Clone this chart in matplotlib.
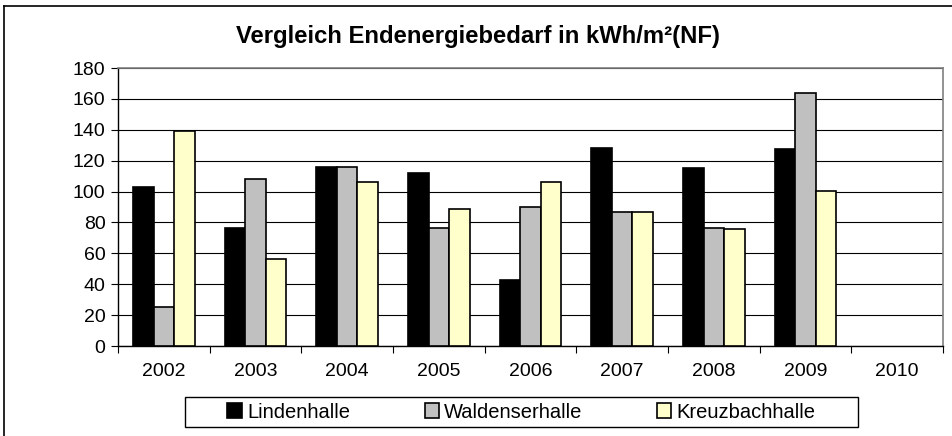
import numpy as np
import matplotlib
matplotlib.use('Agg')
import matplotlib.pyplot as plt
from matplotlib.lines import Line2D
from matplotlib.patches import Rectangle

plt.rcParams['font.family'] = ['Liberation Sans', 'DejaVu Sans']

years = ['2002', '2003', '2004', '2005', '2006', '2007', '2008', '2009', '2010']
lindenhalle = [103, 76.5, 116, 112, 43, 128.5, 115, 127.5, np.nan]
waldenserhalle = [25.5, 108, 116, 76.5, 90, 86.5, 76.5, 163.5, np.nan]
kreuzbachhalle = [139.5, 56.5, 106, 88.5, 106, 87, 75.5, 100.5, np.nan]

W, H = 952, 436
fig = plt.figure(figsize=(W / 100, H / 100), dpi=100)
ax = fig.add_axes([118 / W, 1 - 346 / H, 825 / W, 278 / H])

x = np.arange(len(years))
bw = 0.225
series = [(lindenhalle, '#000000', 'Lindenhalle'),
          (waldenserhalle, '#C0C0C0', 'Waldenserhalle'),
          (kreuzbachhalle, '#FFFFCC', 'Kreuzbachhalle')]
for i, (vals, col, lab) in enumerate(series):
    ax.bar(x + (i - 1) * bw, vals, bw, color=col, edgecolor='black',
           linewidth=1.2, label=lab, zorder=3)

ax.set_xlim(-0.5, len(years) - 0.5)
ax.set_ylim(0, 180)
ax.set_yticks(np.arange(0, 181, 20))
ax.yaxis.grid(True, color='black', linewidth=0.8, zorder=0)
ax.set_axisbelow(True)

ax.set_xticks(np.arange(-0.5, len(years), 1))
ax.set_xticklabels([])
ax.set_xticks(x, minor=True)
ax.set_xticklabels(years, minor=True)
ax.tick_params(axis='x', which='major', direction='out', length=5, color='black')
ax.tick_params(axis='x', which='minor', length=0, pad=12, labelsize=14)
ax.tick_params(axis='y', direction='out', length=5, pad=4, labelsize=14)

for s in ['top', 'right']:
    ax.spines[s].set_color('#808080')
    ax.spines[s].set_linewidth(1.2)
for s in ['left', 'bottom']:
    ax.spines[s].set_color('black')
    ax.spines[s].set_linewidth(1.0)

fig.text(478 / W, 1 - 36 / H, 'Vergleich Endenergiebedarf in kWh/m²(NF)',
         ha='center', va='center', fontsize=17.2, fontweight='bold')

# legend without its own frame, the box is drawn separately
leg = fig.legend(loc='center', ncol=3, bbox_to_anchor=(521.5 / W, 1 - 412 / H),
                 bbox_transform=fig.transFigure, fontsize=14.5, frameon=False,
                 handlelength=0.72, handleheight=0.72, handletextpad=0.25,
                 columnspacing=3.7, borderpad=0, borderaxespad=0)
fig.add_artist(Rectangle((185 / W, 1 - 427 / H), 673 / W, 30 / H,
                         transform=fig.transFigure, fill=False,
                         edgecolor='black', linewidth=1.0))

# outer chart frame (only left and top edges visible)
fig.add_artist(Line2D([3.5 / W, 3.5 / W], [0, 1 - 6 / H], color='black',
                      linewidth=1.2, transform=fig.transFigure))
fig.add_artist(Line2D([3.5 / W, 1], [1 - 6 / H, 1 - 6 / H], color='black',
                      linewidth=1.2, transform=fig.transFigure))

fig.savefig('out.png', dpi=100)
